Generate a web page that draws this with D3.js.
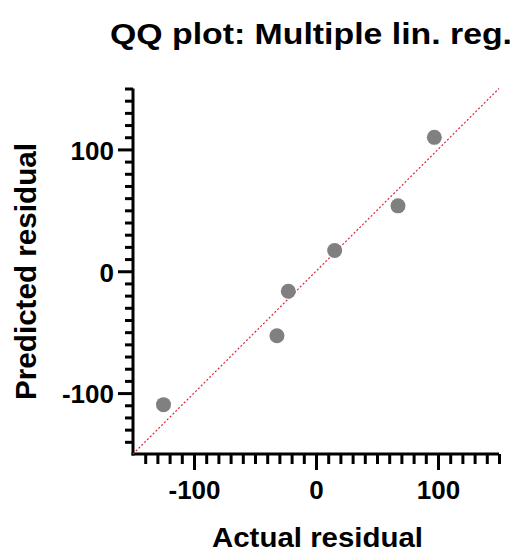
<!DOCTYPE html>
<html>
<head>
<meta charset="utf-8">
<script src="https://cdn.jsdelivr.net/npm/d3@7"></script>
<style>
  body { margin: 0; background: #fff; }
  text { font-family: "Liberation Sans", Arial, sans-serif; font-weight: bold; }
</style>
</head>
<body>
<div id="chart"></div>
<script>
// actual vs predicted residuals
var actual    = [-125, -32, -22.7, 15.3, 67.2, 97];
var predicted = [-109.5, -53, -16.4, 17, 53.7, 109.9];
var tickVals  = [-100, 0, 100];
var lineEnds  = [-150, 150];

var width = 528, height = 552;
var svg = d3.select('#chart').append('svg')
    .attr('width', width)
    .attr('height', height);

var x = d3.scaleLinear().domain([-150, 150]).range([133, 499]);
var y = d3.scaleLinear().domain([-150, 150]).range([454, 88.5]);

// minor ticks every 10
var minor = d3.range(-140, 151, 10).filter(function(v){ return v % 100 != 0; });
var fmt = function(d){ return String(d); }; // plain hyphen, not unicode minus

// y axis
var gy = svg.append('g').attr('transform', 'translate(' + x(-150) + ',0)');
gy.append('g').call(d3.axisLeft(y).tickValues(minor).tickSize(8).tickFormat(''))
  .call(function(g){ g.select('.domain').remove(); });
gy.append('g').call(d3.axisLeft(y).tickValues(tickVals).tickSize(15).tickPadding(4).tickFormat(fmt))
  .call(function(g){ g.select('.domain').remove(); });
gy.selectAll('line').attr('stroke', '#000').attr('stroke-width', 3);
gy.selectAll('text').attr('font-size', 26).attr('fill', '#000').attr('dy', '0.38em');
gy.append('line').attr('x1', 0).attr('x2', 0).attr('y1', y(150) ).attr('y2', y(-150) + 1.5)
  .attr('stroke', '#000').attr('stroke-width', 3);

// x axis
var gx = svg.append('g').attr('transform', 'translate(0,' + y(-150) + ')');
gx.append('g').call(d3.axisBottom(x).tickValues(minor).tickSize(10).tickFormat(''))
  .call(function(g){ g.select('.domain').remove(); });
gx.append('g').call(d3.axisBottom(x).tickValues(tickVals).tickSize(16).tickPadding(11).tickFormat(fmt))
  .call(function(g){ g.select('.domain').remove(); });
gx.selectAll('line').attr('stroke', '#000').attr('stroke-width', 3);
gx.selectAll('text').attr('font-size', 26).attr('fill', '#000');
gx.append('line').attr('x1', x(-150) - 1.5).attr('x2', x(150)).attr('y1', 0).attr('y2', 0)
  .attr('stroke', '#000').attr('stroke-width', 3);

// identity line
svg.append('line')
    .attr('x1', x(lineEnds[0])).attr('y1', y(lineEnds[0]))
    .attr('x2', x(lineEnds[1])).attr('y2', y(lineEnds[1]))
    .attr('stroke', '#d42a3a')
    .attr('stroke-width', 1.2)
    .attr('stroke-dasharray', '2,2');

// points
svg.selectAll('circle.pt')
    .data(actual)
    .enter().append('circle')
    .attr('class', 'pt')
    .attr('cx', function(d){ return x(d); })
    .attr('cy', function(d, i){ return y(predicted[i]); })
    .attr('r', 7.5)
    .attr('fill', '#808080');

// titles (text is a bit wider in the original, so stretch to its length)
svg.append('text')
    .attr('x', 110).attr('y', 44)
    .attr('font-size', 29)
    .attr('textLength', 402)
    .attr('lengthAdjust', 'spacingAndGlyphs')
    .text('QQ plot: Multiple lin. reg.');

svg.append('text')
    .attr('x', 212).attr('y', 547)
    .attr('font-size', 28)
    .attr('textLength', 211)
    .attr('lengthAdjust', 'spacingAndGlyphs')
    .text('Actual residual');

svg.append('text')
    .attr('transform', 'translate(36,400) rotate(-90)')
    .attr('font-size', 29)
    .attr('textLength', 257)
    .attr('lengthAdjust', 'spacingAndGlyphs')
    .text('Predicted residual');
</script>
</body>
</html>
